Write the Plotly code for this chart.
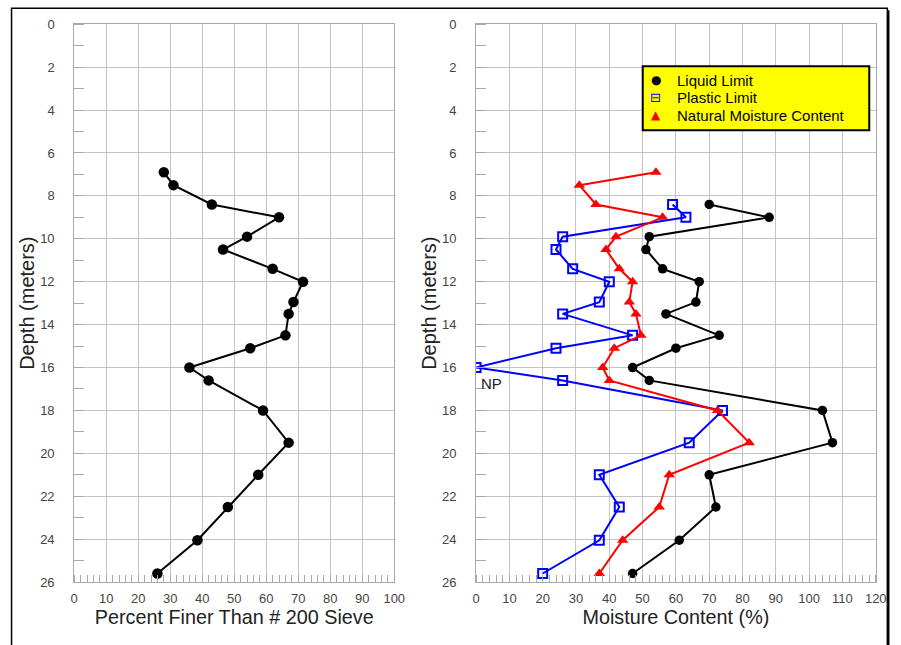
import plotly.graph_objects as go

# ---- data ----
fines_depth = [6.9, 7.5, 8.4, 9.0, 9.9, 10.5, 11.4, 12.0, 12.95, 13.5, 14.5,
               15.1, 16.0, 16.6, 18.0, 19.5, 21.0, 22.5, 24.05, 25.6]
fines_pct = [28, 31, 43, 64, 54, 46.5, 62, 71.5, 68.5, 67, 66,
             55, 36, 42, 59, 67, 57.5, 48, 38.5, 26]

ll_depth = [8.4, 9.0, 9.9, 10.5, 11.4, 12.0, 12.95, 13.5, 14.5,
            15.1, 16.0, 16.6, 18.0, 19.5, 21.0, 22.5, 24.05, 25.6]
ll_vals = [70, 88, 52, 51, 56, 67, 66, 57, 73,
           60, 47, 52, 104, 107, 70, 72, 61, 47]

pl_depth = ll_depth
pl_vals = [59, 63, 26, 24, 29, 40, 37, 26, 47,
           24, 0, 26, 74, 64, 37, 43, 37, 20]

nmc_depth = [6.9, 7.5, 8.4, 9.0, 9.9, 10.5, 11.4, 12.0, 12.95, 13.5, 14.5,
             15.1, 16.0, 16.6, 18.0, 19.5, 21.0, 22.5, 24.05, 25.6]
nmc_vals = [54, 31, 36, 56, 42, 39, 43, 47, 46, 48, 49.5,
            41.5, 38, 40, 72.5, 82, 58, 55, 44, 37]

depth_ticks = list(range(0, 27, 2))
fines_ticks = list(range(0, 101, 10))
mc_ticks = list(range(0, 121, 10))

legend_names = ["Liquid Limit", "Plastic Limit", "Natural Moisture Content"]
legend_glyphs = ["\u25CF", "\u229F", "\u25B2"]
legend_colors = ["black", "#0000ff", "#ff0000"]

W, H = 901, 645
FONT = "Liberation Sans, Arial, sans-serif"
GRID = "#c4c4c4"
AXLINE = "#a8a8a8"


# screen pixel -> paper fraction (compensates the page's rendering offset/scale)
def px(X):
    return min(((X - 2.94) / 0.9854) / W, 0.999)


def py(Y):
    return 1 - max((Y - 6.76) / 0.977, 0.5) / H


fig = go.Figure()

fig.add_trace(go.Scatter(x=fines_pct, y=fines_depth, mode="lines+markers",
                         line=dict(color="black", width=2),
                         marker=dict(symbol="circle", size=10.5, color="black"),
                         xaxis="x", yaxis="y", showlegend=False))

fig.add_trace(go.Scatter(x=ll_vals, y=ll_depth, mode="lines+markers",
                         line=dict(color="black", width=2),
                         marker=dict(symbol="circle", size=9.5, color="black"),
                         xaxis="x2", yaxis="y2", showlegend=False))
fig.add_trace(go.Scatter(x=pl_vals, y=pl_depth, mode="lines+markers",
                         line=dict(color="#0000ff", width=2),
                         marker=dict(symbol="square-open", size=9, color="#0000ff",
                                     line=dict(width=2, color="#0000ff")),
                         xaxis="x2", yaxis="y2", showlegend=False))
fig.add_trace(go.Scatter(x=nmc_vals, y=nmc_depth, mode="lines+markers",
                         line=dict(color="#ff0000", width=2),
                         marker=dict(symbol="triangle-up", size=10, color="#ff0000"),
                         xaxis="x2", yaxis="y2", showlegend=False))


def xaxis_cfg(dom, rng, ticks, title, anchor):
    return dict(domain=dom, range=rng, tickvals=ticks, anchor=anchor, showgrid=True,
                gridcolor=GRID, gridwidth=1, showline=True, linecolor=AXLINE,
                linewidth=1, mirror=True, zeroline=False, ticks="",
                ticklabelstandoff=4,
                tickfont=dict(family=FONT, size=13, color="#444"),
                title=dict(text=title, font=dict(family=FONT, size=19.8, color="#222"),
                           standoff=3),
                minor=dict(dtick=2, tick0=0, ticks="inside", ticklen=7,
                           tickcolor=AXLINE, tickwidth=1, showgrid=False))


def yaxis_cfg(anchor):
    return dict(domain=[py(582), py(24)], range=[26, 0], tickvals=depth_ticks,
                anchor=anchor, showgrid=True, gridcolor=GRID, gridwidth=1,
                showline=True, linecolor=AXLINE, linewidth=1, mirror=True,
                zeroline=False, ticks="", ticklabelstandoff=16,
                tickfont=dict(family=FONT, size=13, color="#444"),
                title=dict(text="Depth (meters)", font=dict(family=FONT, size=20, color="#222"),
                           standoff=0),
                minor=dict(dtick=1, tick0=0, ticks="inside", ticklen=10,
                           tickcolor=AXLINE, tickwidth=1, showgrid=False))


annotations = [dict(x=0, y=16.0, xref="x2", yref="y2", text="NP", showarrow=False,
                    xanchor="left", yanchor="top", xshift=3, yshift=-5,
                    font=dict(family=FONT, size=15, color="#222"))]
leg_y = [80, 97.5, 115]
for name, glyph, col, yy in zip(legend_names, legend_glyphs, legend_colors, leg_y):
    annotations.append(dict(x=px(676), y=py(yy), xref="paper", yref="paper", text=name,
                            showarrow=False, xanchor="left", yanchor="middle",
                            borderpad=0,
                            font=dict(family=FONT, size=15, color="black")))
    annotations.append(dict(x=px(656), y=py(yy), xref="paper", yref="paper", text=glyph,
                            showarrow=False, xanchor="center", yanchor="middle",
                            borderpad=0,
                            font=dict(family="DejaVu Sans", size=12 if glyph != "\u229F" else 13,
                                      color=col)))

fig.update_layout(
    width=W, height=H,
    margin=dict(l=0, r=0, t=0, b=0),
    paper_bgcolor="white", plot_bgcolor="white",
    showlegend=False,
    xaxis=xaxis_cfg([px(73.3), px(394)], [0, 100], fines_ticks,
                    "Percent Finer Than # 200 Sieve", "y"),
    yaxis=yaxis_cfg("x"),
    xaxis2=xaxis_cfg([px(476), px(876.5)], [0, 120], mc_ticks, "Moisture Content (%)", "y2"),
    yaxis2=yaxis_cfg("x2"),
    annotations=annotations,
    shapes=[dict(type="rect", xref="paper", yref="paper",
                 x0=px(10.5), x1=0.997, y0=-0.05, y1=py(8),
                 line=dict(color="black", width=1.5)),
            dict(type="line", xref="paper", yref="paper",
                 x0=0.998, x1=0.998, y0=-0.05, y1=py(10),
                 line=dict(color="black", width=2.5)),
            dict(type="rect", xref="paper", yref="paper",
                 x0=px(643), x1=px(870), y0=py(130), y1=py(66),
                 fillcolor="#ffff00", line=dict(color="black", width=2), layer="above")],
)

fig.write_html("out.html")
